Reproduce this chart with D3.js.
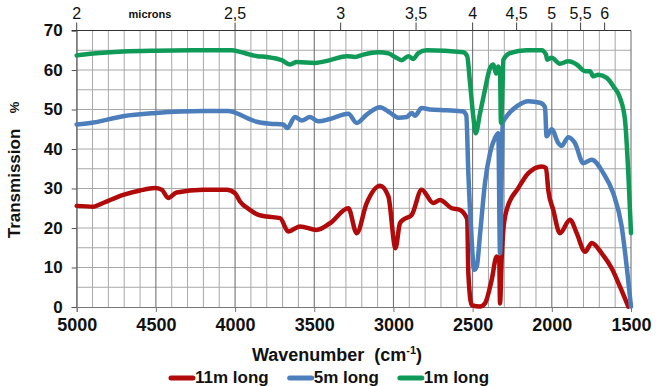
<!DOCTYPE html>
<html>
<head>
<meta charset="utf-8">
<script src="https://cdn.jsdelivr.net/npm/d3@7"></script>
<style>
  body { margin: 0; background: #fff; }
  text { font-family: "Liberation Sans", Arial, sans-serif; fill: #111; }
</style>
</head>
<body>
<svg id="chart"></svg>
<script>
// transmission (%), [wavenumber cm-1, value]
const long11 = [[5000,25.6],[4895,25.4],[4853,26.0],[4706,28.4],[4600,29.5],[4506,30.1],[4463,29.7],[4422,27.6],[4369,29.0],[4201,29.7],[4053,29.7],[4000,28.8],[3969,26.7],[3906,24.6],[3853,23.3],[3800,22.9],[3716,22.5],[3664,19.1],[3590,20.4],[3485,19.5],[3401,21.2],[3285,25.0],[3232,18.7],[3169,26.3],[3085,30.7],[3032,28.0],[2987,14.9],[2959,21.2],[2938,22.1],[2885,23.3],[2822,29.7],[2748,26.3],[2706,27.1],[2632,25.0],[2580,24.6],[2548,23.3],[2534,22.1],[2527,8.5],[2506,0.5],[2453,0.1],[2422,0.9],[2380,6.8],[2348,12.8],[2332,11.9],[2327,0.9],[2316,12.8],[2306,19.5],[2285,24.6],[2212,30.1],[2148,33.9],[2064,35.6],[2037,35.2],[2022,29.5],[1991,24.6],[1949,18.7],[1885,22.1],[1843,18.7],[1790,14.0],[1748,16.2],[1685,13.6],[1622,9.8],[1569,5.1],[1517,0.1]];

const long5 = [[5000,46.2],[4895,46.7],[4706,48.3],[4501,49.1],[4201,49.6],[4043,49.6],[3969,48.7],[3948,48.3],[3863,46.9],[3779,46.4],[3695,46.2],[3670,45.3],[3622,48.1],[3579,47.2],[3527,48.1],[3474,47.0],[3401,47.6],[3285,48.9],[3232,46.6],[3169,48.7],[3085,50.6],[3022,49.2],[2969,47.9],[2916,48.1],[2885,49.1],[2864,48.4],[2822,50.4],[2769,50.0],[2664,49.8],[2559,49.5],[2540,48.5],[2527,33.9],[2506,17.0],[2491,9.4],[2474,10.2],[2453,18.5],[2422,31.4],[2390,39.0],[2359,42.8],[2338,44.0],[2327,13.6],[2316,33.9],[2310,46.6],[2285,48.3],[2222,50.8],[2148,52.1],[2074,51.7],[2043,50.6],[2033,43.2],[2001,45.0],[1959,41.5],[1938,40.8],[1896,43.0],[1854,41.5],[1801,36.4],[1748,37.3],[1675,33.9],[1612,28.8],[1559,20.4],[1527,10.2],[1500,0.1]];

const long1 = [[5000,63.7],[4895,64.2],[4706,64.7],[4501,64.9],[4203,65.0],[4021,65.0],[3969,64.6],[3906,63.9],[3860,63.5],[3800,63.3],[3706,62.5],[3653,61.4],[3611,62.0],[3495,61.8],[3401,62.5],[3295,63.5],[3243,63.3],[3190,63.9],[3096,64.5],[3032,64.2],[2990,63.3],[2948,62.5],[2906,63.5],[2875,62.8],[2843,64.3],[2790,65.0],[2559,64.5],[2534,63.5],[2517,57.0],[2496,48.3],[2481,44.0],[2453,49.1],[2422,55.0],[2390,60.5],[2369,61.4],[2352,59.1],[2338,60.9],[2327,59.3],[2321,46.6],[2310,57.6],[2306,62.6],[2264,64.3],[2159,65.0],[2064,65.0],[2037,63.9],[2029,62.6],[2001,63.1],[1949,61.6],[1896,62.2],[1843,61.4],[1790,59.7],[1759,59.7],[1738,58.4],[1707,58.8],[1653,58.0],[1612,55.9],[1569,52.9],[1538,47.4],[1517,33.9],[1500,18.7]];

const seriesNames = ['11m long', '5m long', '1m long'];
const seriesColors = ['#b00a0a', '#4b7ebb', '#109a58'];

const yTicks = [0, 10, 20, 30, 40, 50, 60, 70];
const xTicks = [5000, 4500, 4000, 3500, 3000, 2500, 2000, 1500];
const micronTicks = [2, 2.5, 3, 3.5, 4, 4.5, 5, 5.5, 6];
const micronLabels = ['2', '2,5', '3', '3,5', '4', '4,5', '5', '5,5', '6'];

const W = 656, H = 386;
const pLeft = 76.7, pRight = 631, pTop = 30.5, pBottom = 307;

const svg = d3.select('#chart').attr('width', W).attr('height', H);

const x = d3.scaleLinear().domain([5000, 1500]).range([pLeft, pRight]);
const y = d3.scaleLinear().domain([0, 70]).range([pBottom, pTop]);

// grid
const grid = svg.append('g');
grid.selectAll('line.vx')
  .data(d3.range(4900, 1500, -100).filter(d => d % 500 !== 0))
  .enter().append('line')
  .attr('x1', d => x(d)).attr('x2', d => x(d))
  .attr('y1', pTop).attr('y2', pBottom)
  .attr('stroke', '#a8a8a8').attr('stroke-width', 1);
grid.selectAll('line.hy')
  .data(d3.range(5, 70, 5))
  .enter().append('line')
  .attr('x1', pLeft).attr('x2', pRight)
  .attr('y1', d => y(d)).attr('y2', d => y(d))
  .attr('stroke', '#a8a8a8').attr('stroke-width', 1);
grid.selectAll('line.mx')
  .data(xTicks)
  .enter().append('line')
  .attr('x1', d => x(d)).attr('x2', d => x(d))
  .attr('y1', pTop).attr('y2', pBottom)
  .attr('stroke', '#666').attr('stroke-width', 1);

// bottom axis
const xAxis = svg.append('g')
  .attr('transform', `translate(0,${pBottom})`)
  .call(d3.axisBottom(x).tickValues(xTicks).tickSize(5).tickPadding(6).tickFormat(d3.format('d')));
xAxis.select('.domain').attr('stroke', '#777');
xAxis.selectAll('.tick line').attr('stroke', '#777');
xAxis.selectAll('text').attr('font-size', 18).attr('font-weight', 'bold')
  .attr('font-family', '"Liberation Sans", Arial, sans-serif').attr('fill', '#111');

// left axis
const yAxis = svg.append('g')
  .attr('transform', `translate(${pLeft},0)`)
  .call(d3.axisLeft(y).tickValues(yTicks).tickSize(5).tickPadding(9));
yAxis.select('.domain').attr('stroke', '#777');
yAxis.selectAll('.tick line').attr('stroke', '#555');
yAxis.selectAll('text').attr('font-size', 17).attr('font-weight', 'bold')
  .attr('font-family', '"Liberation Sans", Arial, sans-serif').attr('fill', '#111');

// top micron axis
const um = d => x(10000 / d);
svg.append('line')
  .attr('x1', pLeft - 5).attr('x2', pRight).attr('y1', pTop).attr('y2', pTop)
  .attr('stroke', '#333').attr('stroke-width', 1.2);
svg.selectAll('line.um')
  .data(micronTicks)
  .enter().append('line')
  .attr('x1', um).attr('x2', um)
  .attr('y1', pTop - 8).attr('y2', pTop)
  .attr('stroke', '#444');
svg.selectAll('text.um')
  .data(micronTicks)
  .enter().append('text')
  .attr('x', um).attr('y', 19)
  .attr('text-anchor', 'middle')
  .attr('font-size', 16)
  .text((d, i) => micronLabels[i]);
svg.append('text')
  .attr('x', 150).attr('y', 18)
  .attr('text-anchor', 'middle')
  .attr('font-size', 11).attr('font-weight', 'bold')
  .text('microns');

// curves (smoothed like the original)
const line = d3.line().x(d => x(d[0])).y(d => y(d[1])).curve(d3.curveMonotoneX);
[long11, long5, long1].forEach((s, i) => {
  svg.append('path')
    .datum(s)
    .attr('d', line)
    .attr('fill', 'none')
    .attr('stroke', seriesColors[i])
    .attr('stroke-width', 4.5)
    .attr('stroke-linejoin', 'round')
    .attr('stroke-linecap', 'round');
});

// axis titles
const xt = svg.append('text')
  .attr('x', 337).attr('y', 361)
  .attr('text-anchor', 'middle')
  .attr('font-size', 18).attr('font-weight', 'bold');
xt.append('tspan').text('Wavenumber\u00a0\u00a0(cm');
xt.append('tspan').attr('font-size', 11).attr('dy', -7).text('-1');
xt.append('tspan').attr('dy', 7).text(')');

svg.append('text')
  .attr('transform', 'translate(20,183.5) rotate(-90)')
  .attr('text-anchor', 'middle')
  .attr('font-size', 17).attr('font-weight', 'bold')
  .text('Transmission');
svg.append('text')
  .attr('transform', 'translate(19,107.5) rotate(-90)')
  .attr('text-anchor', 'middle')
  .attr('font-size', 13).attr('font-weight', 'bold')
  .text('%');

// legend
const legend = svg.append('g');
let lx = 0;
seriesNames.forEach((name, i) => {
  const g = legend.append('g').attr('transform', `translate(${lx},0)`);
  g.append('line')
    .attr('x1', 2).attr('x2', 24).attr('y1', 378).attr('y2', 378)
    .attr('stroke', seriesColors[i]).attr('stroke-width', 5).attr('stroke-linecap', 'round');
  const t = g.append('text')
    .attr('x', 26).attr('y', 383)
    .attr('font-size', 17).attr('font-weight', 'bold')
    .text(name);
  lx += 26 + t.node().getComputedTextLength() + 19;
});
const legendW = lx - 19;
legend.attr('transform', `translate(${329 - legendW / 2},0)`);
</script>
</body>
</html>
